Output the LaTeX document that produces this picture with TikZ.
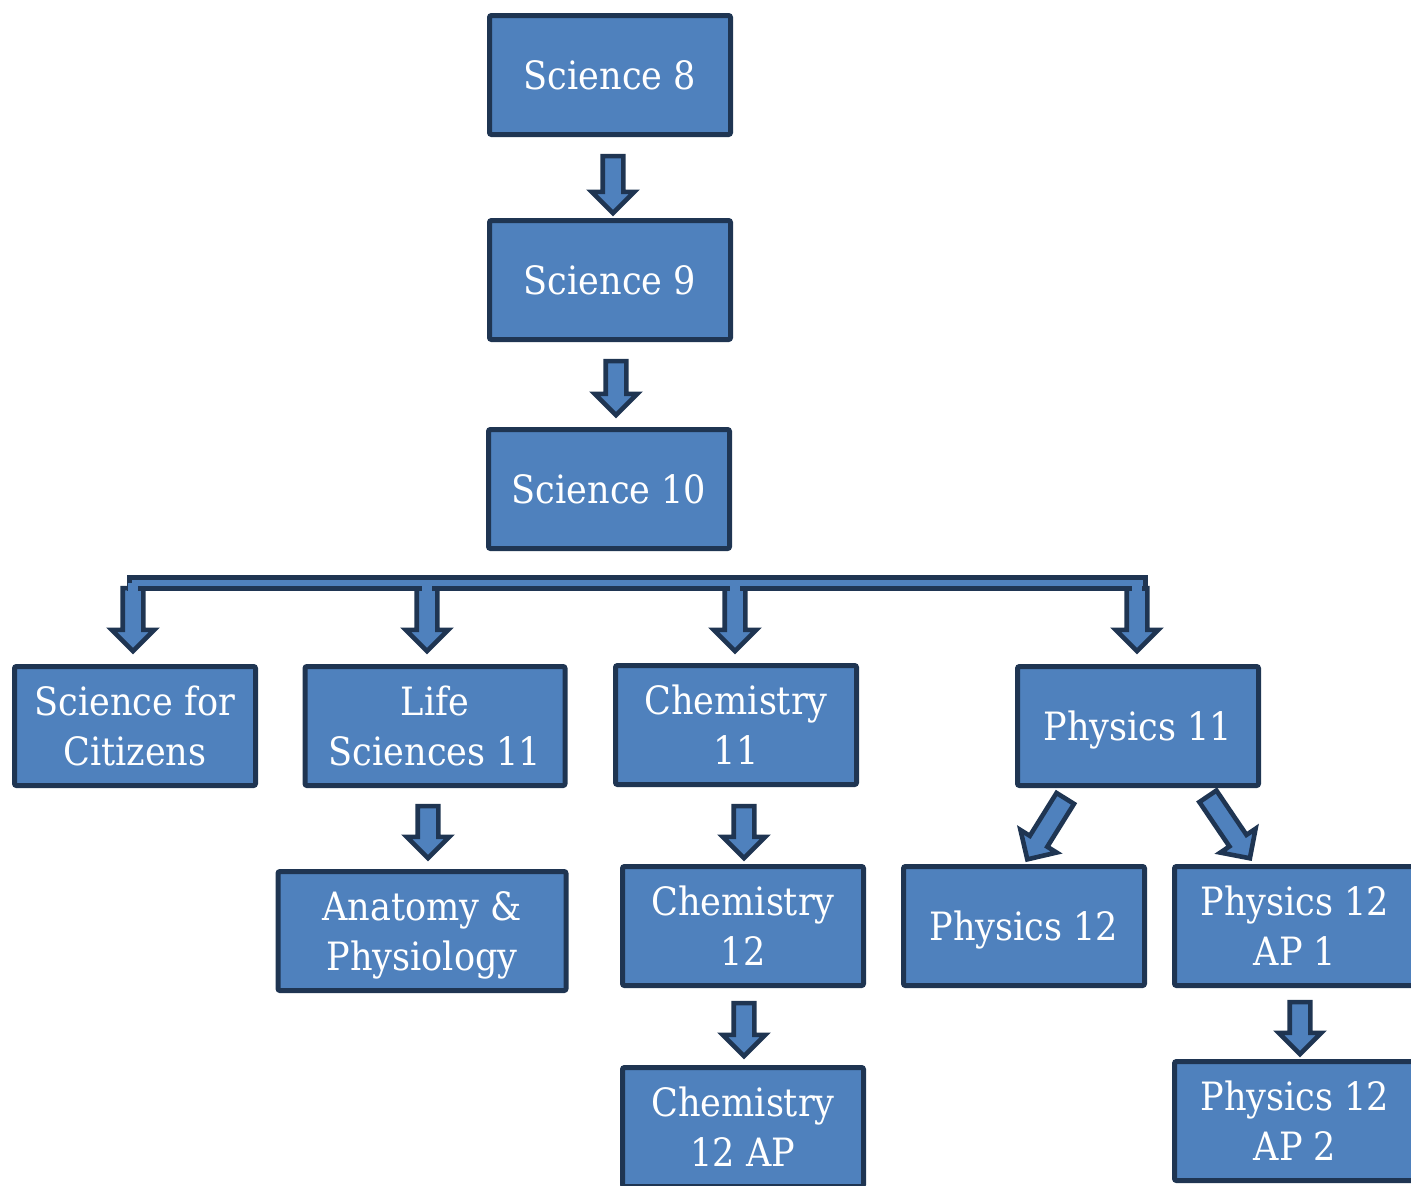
\documentclass[tikz,border=0pt]{standalone}
\usepackage{fontspec}
\setmainfont{DejaVu Serif Condensed}
\usetikzlibrary{shapes.arrows, calc}

\definecolor{boxblue}{HTML}{4F81BD}
\definecolor{boxline}{HTML}{1F3552}

% block arrow from one point to another
\newcommand\fatarrow[2]{%
  \path let \p1=(#1), \p2=(#2), \n1={veclen(\x2-\x1,\y2-\y1)} in
    (\p1) -- node[blockarrow, sloped, allow upside down, minimum height=\n1] {} (\p2);}

\begin{document}
\begin{tikzpicture}[
    x=0.5pt, y=-0.5pt,
    course/.style={
        draw=boxline,
        fill=boxblue,
        line width=2.5pt,
        rounded corners=1pt,
        minimum width=120.5pt,
        minimum height=59.5pt,
        inner sep=2pt,
        text depth=0pt,
        align=center,
        text=white,
        font=\fontsize{19.5}{25}\selectfont
    },
    blockarrow/.style={
        single arrow,
        draw=boxline,
        fill=boxblue,
        line width=2.3pt,
        inner xsep=0pt,
        inner ysep=4pt,
        single arrow head extend=5.5pt,
        minimum width=19pt
    },
    branchbar/.style={
        draw=boxline,
        fill=boxblue,
        line width=2.3pt,
        inner sep=0pt,
        minimum height=5.5pt
    }
]
    \useasboundingbox (0,0) rectangle (1411,1185);

    % Courses
    \node[course] (sci8) at (610,75) {Science 8};
    \node[course] (sci9) at (610,280) {Science 9};
    \node[course] (sci10) at (609,489) {Science 10};

    \node[course] (citizens) at (135,726) {Science for\\Citizens};
    \node[course, minimum width=130pt] (life) at (435,726) {Life\\Sciences 11};
    \node[course] (chem11) at (736,725) {Chemistry\\11};
    \node[course] (phys11) at (1138,726) {Physics 11};

    \node[course, minimum width=144pt] (anatomy) at (422,931) {Anatomy \&\\Physiology};
    \node[course] (chem12) at (743,926) {Chemistry\\12};
    \node[course] (phys12) at (1024,926) {Physics 12};
    \node[course] (phys12ap1) at (1295,926) {Physics 12\\AP 1};

    \node[course] (chem12ap) at (743,1127) {Chemistry\\12 AP};
    \node[course] (phys12ap2) at (1295,1121) {Physics 12\\AP 2};

    % Branch bar under Science 10
    \coordinate (drop1) at (133,583);
    \coordinate (drop2) at (427,583);
    \coordinate (drop3) at (735,583);
    \coordinate (drop4) at (1137,583);
    \fatarrow{drop1}{$(drop1 |- citizens.north)+(0,-18)$}
    \fatarrow{drop2}{$(drop2 |- life.north)+(0,-18)$}
    \fatarrow{drop3}{$(drop3 |- chem11.north)+(0,-17)$}
    \fatarrow{drop4}{$(drop4 |- phys11.north)+(0,-18)$}
    \node[branchbar, minimum width=508pt] (branch) at (637.5,583) {};
    \foreach \d in {drop1,drop2,drop3,drop4}
        \fill[boxblue] ($(\d)+(-5,0)$) rectangle ($(\d)+(5,9)$);

    % Arrows
    \fatarrow{$(sci8.south)+(3,14)$}{$(sci9.north)+(3,-10)$}
    \fatarrow{$(sci9.south)+(6,14)$}{$(sci10.north)+(7,-17)$}
    \fatarrow{$(life.south)+(-7,13)$}{$(anatomy.north)+(6,-16)$}
    \fatarrow{$(chem11.south -| chem12.north)+(1,14)$}{$(chem12.north)+(1,-11)$}
    \fatarrow{$(chem12.south)+(1,10)$}{$(chem12ap.north)+(1,-14)$}
    \fatarrow{$(phys12ap1.south)+(5,9)$}{$(phys12ap2.north)+(5,-10)$}
    \fatarrow{$(phys11.south)+(-70,6)$}{$(phys12.north)+(6,-9)$}
    \fatarrow{$(phys11.south)+(67,4)$}{$(phys12ap1.north)+(-48,-10)$}

\end{tikzpicture}
\end{document}
